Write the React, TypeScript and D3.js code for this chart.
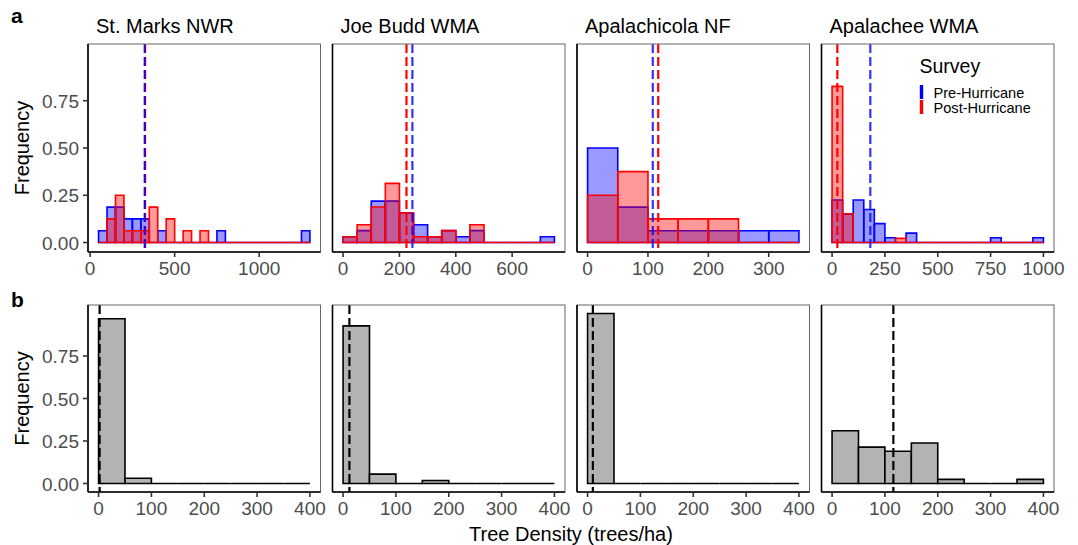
import React from 'react';
import * as d3 from 'd3';

// sites (facets, left to right)
const sites = ['St. Marks NWR', 'Joe Budd WMA', 'Apalachicola NF', 'Apalachee WMA'];
const binWidth = 50;

// row a: frequency per 50 trees/ha bin, pre and post hurricane
const firstBinA = [50, 0, 0, 0];
const preStMarks = [0.0625, 0.1875, 0.1875, 0.125, 0.125, 0.125, 0, 0.0625, 0, 0, 0, 0, 0, 0, 0.0625, 0, 0, 0, 0, 0, 0, 0, 0, 0, 0.0625];
const postStMarks = [0, 0.125, 0.25, 0.0625, 0.0625, 0.0625, 0.1875, 0, 0.125, 0, 0.0625, 0, 0.0625, 0, 0, 0, 0, 0, 0, 0, 0, 0, 0, 0, 0];
const preJoeBudd = [0.031, 0.063, 0.219, 0.219, 0.156, 0.094, 0.031, 0.063, 0.031, 0.063, 0, 0, 0, 0, 0.031];
const postJoeBudd = [0.031, 0.094, 0.188, 0.313, 0.156, 0.031, 0.031, 0.063, 0, 0.094, 0, 0, 0, 0, 0];
const preApalachicola = [0.5, 0.1875, 0.0625, 0.0625, 0.0625, 0.0625, 0.0625];
const postApalachicola = [0.25, 0.375, 0.125, 0.125, 0.125, 0, 0];
const preApalachee = [0.225, 0.15, 0.225, 0.175, 0.1, 0.025, 0, 0.05, 0, 0, 0, 0, 0, 0, 0, 0.025, 0, 0, 0, 0.025];
const postApalachee = [0.826, 0.152, 0, 0, 0, 0, 0.022, 0, 0, 0, 0, 0, 0, 0, 0, 0, 0, 0, 0, 0];
const preMeans = [323, 246, 108, 181];
const postMeans = [325, 225, 117, 25];
const xTicksA = [[0, 500, 1000], [0, 200, 400, 600], [0, 100, 200, 300], [0, 250, 500, 750, 1000]];

// row b
const firstBinB = 0;
const freqStMarksB = [0.969, 0.031, 0, 0, 0, 0, 0, 0];
const freqJoeBuddB = [0.927, 0.055, 0, 0.018, 0, 0, 0, 0];
const freqApalachicolaB = [1, 0, 0, 0, 0, 0, 0, 0];
const freqApalacheeB = [0.31, 0.214, 0.19, 0.238, 0.024, 0, 0, 0.024];
const meansB = [2, 12, 10, 116];
const xTicksB = [0, 100, 200, 300, 400];

const yTicks = [0, 0.25, 0.5, 0.75];
const yTickLabels = ['0.00', '0.25', '0.50', '0.75'];

const preA = [preStMarks, preJoeBudd, preApalachicola, preApalachee];
const postA = [postStMarks, postJoeBudd, postApalachicola, postApalachee];
const freqB = [freqStMarksB, freqJoeBuddB, freqApalachicolaB, freqApalacheeB];

const W = 1078;
const H = 545;
const font = 'Liberation Sans, Arial, Helvetica, sans-serif';
const panelLeft = 88;
const panelW = 232.5;
const panelGap = 12;
const rowA = { top: 44, bottom: 252 };
const rowB = { top: 305, bottom: 492 };
const PRE = '#0000ff';
const POST = '#ff0000';
const tickColor = '#4d4d4d';
const tickSize = 19;
const titleSize = 20;

function expanded(lo: number, hi: number): [number, number] {
  const pad = (hi - lo) * 0.05;
  return [lo - pad, hi + pad];
}

function bars(values: number[], first: number, x: any, y: any) {
  return values.map((v, i) => {
    const x0 = x(first + i * binWidth);
    const x1 = x(first + (i + 1) * binWidth);
    return `M${x0},${y(0)}V${y(v)}H${x1}V${y(0)}Z`;
  });
}

function Panel({ col, row }: { col: number; row: 'a' | 'b' }) {
  const left = panelLeft + col * (panelW + panelGap);
  const right = left + panelW;
  const { top, bottom } = row === 'a' ? rowA : rowB;
  const y = d3.scaleLinear().domain([-0.05, 1.05]).range([bottom, top]);

  let x: d3.ScaleLinear<number, number>;
  let ticks: number[];
  let content: React.ReactNode;

  if (row === 'a') {
    const first = firstBinA[col];
    const n = preA[col].length;
    x = d3.scaleLinear().domain(expanded(first, first + n * binWidth)).range([left, right]);
    ticks = xTicksA[col];
    content = (
      <g>
        {bars(preA[col], first, x, y).map((d, i) => (
          <path key={'pre' + i} d={d} fill={PRE} fillOpacity={0.4} stroke={PRE} strokeWidth={1.6} />
        ))}
        {bars(postA[col], first, x, y).map((d, i) => (
          <path key={'post' + i} d={d} fill={POST} fillOpacity={0.4} stroke={POST} strokeWidth={1.6} />
        ))}
        <line x1={x(postMeans[col])} x2={x(postMeans[col])} y1={top} y2={bottom}
          stroke={POST} strokeWidth={2.2} strokeDasharray="9 4" />
        <line x1={x(preMeans[col])} x2={x(preMeans[col])} y1={top} y2={bottom}
          stroke={PRE} strokeWidth={2.2} strokeDasharray="9 4" strokeOpacity={0.8} />
      </g>
    );
  } else {
    const n = freqB[col].length;
    x = d3.scaleLinear().domain(expanded(firstBinB, firstBinB + n * binWidth)).range([left, right]);
    ticks = xTicksB;
    content = (
      <g>
        {bars(freqB[col], firstBinB, x, y).map((d, i) => (
          <path key={i} d={d} fill="#b3b3b3" stroke="#000" strokeWidth={1.6} />
        ))}
        <line x1={x(meansB[col])} x2={x(meansB[col])} y1={top} y2={bottom}
          stroke="#000" strokeWidth={2.2} strokeDasharray="9 4" />
      </g>
    );
  }

  return (
    <g>
      {content}
      <rect x={left} y={top} width={panelW} height={bottom - top} fill="none" stroke="#666" strokeWidth={1} />
      <line x1={left} x2={left} y1={top} y2={bottom} stroke="#000" strokeWidth={1.6} />
      <line x1={left} x2={right} y1={bottom} y2={bottom} stroke="#000" strokeWidth={1.6} />
      {ticks.map(t => (
        <g key={t}>
          <line x1={x(t)} x2={x(t)} y1={bottom} y2={bottom + 5} stroke="#333" strokeWidth={1.6} />
          <text x={x(t)} y={bottom + 23} textAnchor="middle" fontSize={tickSize} fill={tickColor} fontFamily={font}>{t}</text>
        </g>
      ))}
      {col === 0 && yTicks.map((t, i) => (
        <g key={t}>
          <line x1={left - 5} x2={left} y1={y(t)} y2={y(t)} stroke="#333" strokeWidth={1.6} />
          <text x={left - 9} y={y(t) + 7} textAnchor="end" fontSize={tickSize} fill={tickColor} fontFamily={font}>{yTickLabels[i]}</text>
        </g>
      ))}
      {row === 'a' && (
        <text x={left + 8} y={top - 11} fontSize={titleSize} fontFamily={font} fill="#000">{sites[col]}</text>
      )}
    </g>
  );
}

function Legend() {
  const x0 = 921.5;
  return (
    <g fontFamily={font}>
      <text x={x0 - 2} y={73} fontSize={19.5} fill="#000">Survey</text>
      <line x1={x0} x2={x0} y1={85} y2={99} stroke={PRE} strokeWidth={3.4} />
      <line x1={x0} x2={x0} y1={100} y2={114} stroke={POST} strokeWidth={3.4} />
      <text x={x0 + 12} y={98} fontSize={14.6} fill="#000">Pre-Hurricane</text>
      <text x={x0 + 12} y={113} fontSize={14.6} fill="#000">Post-Hurricane</text>
    </g>
  );
}

export default function App() {
  const plotCenter = (panelLeft + panelLeft + 4 * panelW + 3 * panelGap) / 2;
  return (
    <svg width={W} height={H} style={{ position: 'absolute', left: 0, top: 0, background: '#fff' }}>
      <rect width={W} height={H} fill="#fff" />
      <text x={11} y={23} fontSize={21} fontWeight="bold" fontFamily={font}>a</text>
      <text x={11} y={307} fontSize={21} fontWeight="bold" fontFamily={font}>b</text>
      {[0, 1, 2, 3].map(c => <Panel key={'a' + c} col={c} row="a" />)}
      {[0, 1, 2, 3].map(c => <Panel key={'b' + c} col={c} row="b" />)}
      <Legend />
      <text transform={`translate(29,${(rowA.top + rowA.bottom) / 2}) rotate(-90)`} textAnchor="middle"
        fontSize={titleSize} fontFamily={font}>Frequency</text>
      <text transform={`translate(29,${(rowB.top + rowB.bottom) / 2}) rotate(-90)`} textAnchor="middle"
        fontSize={titleSize} fontFamily={font}>Frequency</text>
      <text x={plotCenter} y={541} textAnchor="middle" fontSize={titleSize} fontFamily={font}>Tree Density (trees/ha)</text>
    </svg>
  );
}
